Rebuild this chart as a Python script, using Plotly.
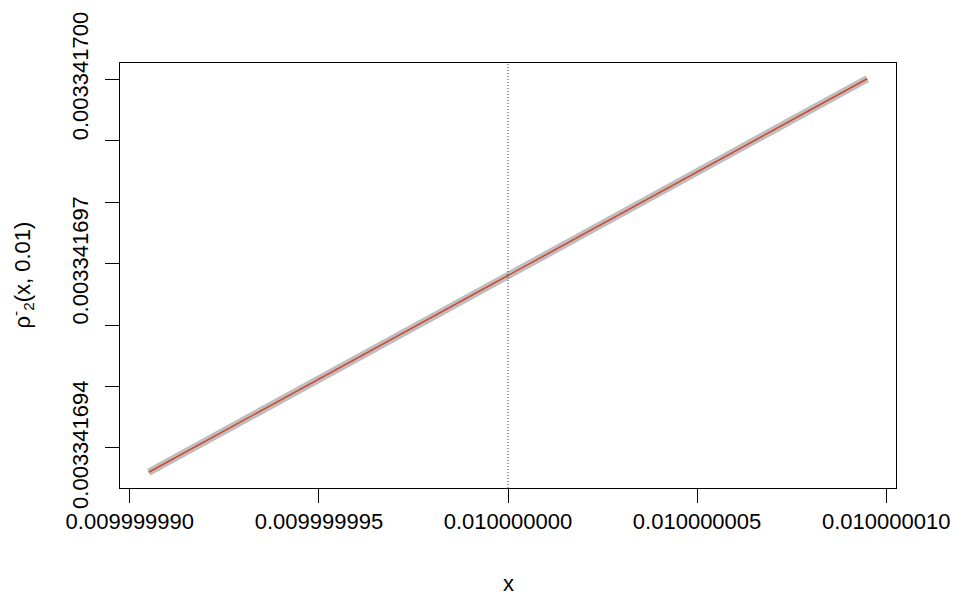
import plotly.graph_objects as go

# data
x_vals = [0.0099999905, 0.0100000000, 0.0100000095]
y_vals = [0.003341693605, 0.00334169681, 0.00334170001]
x_ref = 0.01

x_ticks = [0.009999990, 0.009999995, 0.010000000, 0.010000005, 0.010000010]
x_tick_labels = ["0.009999990", "0.009999995", "0.010000000", "0.010000005", "0.010000010"]
y_ticks = [0.003341694, 0.003341695, 0.003341696, 0.003341697, 0.003341698, 0.003341699, 0.003341700]
y_tick_labels = ["0.003341694", "", "", "0.003341697", "", "", "0.003341700"]

FONT = "Liberation Sans, Arial, Helvetica, sans-serif"

fig = go.Figure()
fig.add_trace(go.Scatter(x=x_vals, y=y_vals, mode="lines",
                         line=dict(color="#BEBEBE", width=7.5), hoverinfo="skip"))
fig.add_trace(go.Scatter(x=x_vals, y=y_vals, mode="lines",
                         line=dict(color="#D2452F", width=1.5), hoverinfo="skip"))
fig.add_shape(type="line", xref="x", yref="paper", x0=x_ref, x1=x_ref, y0=0, y1=1,
              line=dict(color="#333333", width=1, dash="1px,2px"))

# R-style 4% range extension
xmin, xmax = min(x_vals), max(x_vals)
ymin, ymax = min(y_vals), max(y_vals)
dx = (xmax - xmin) * 0.04
dy = (ymax - ymin) * 0.04

fig.update_layout(
    width=953, height=594,
    margin=dict(l=120, r=57, t=63, b=106),
    paper_bgcolor="white", plot_bgcolor="white",
    showlegend=False,
    font=dict(family=FONT, size=22, color="black"),
    xaxis=dict(range=[xmin - dx, xmax + dx], tickvals=x_ticks, ticktext=x_tick_labels,
               ticks="outside", ticklen=14, tickwidth=1, tickcolor="black",
               showline=True, linecolor="black", linewidth=1, mirror=True,
               showgrid=False, zeroline=False, automargin=False,
               tickfont=dict(size=22, family=FONT)),
    yaxis=dict(range=[ymin - dy, ymax + dy], tickvals=y_ticks, ticktext=y_tick_labels,
               ticks="outside", ticklen=14, tickwidth=1, tickcolor="black",
               showline=True, linecolor="black", linewidth=1, mirror=True,
               showgrid=False, zeroline=False, tickangle=-90, automargin=False,
               ticklabelstandoff=8,
               tickfont=dict(size=22, family=FONT)),
    annotations=[
        dict(text="x", xref="paper", yref="paper", x=0.5, y=0, yshift=-95,
             showarrow=False, xanchor="center", yanchor="middle",
             font=dict(size=22, family=FONT)),
        dict(text="ρ<sup>-</sup><sub>2</sub>(x, 0.01)", xref="paper", yref="paper",
             x=0, xshift=-98, y=0.5, textangle=-90, showarrow=False,
             xanchor="center", yanchor="middle", font=dict(size=22, family=FONT)),
    ],
)

fig.write_html("out.html", config={"displayModeBar": False},
               post_script="document.body.style.margin='0';document.body.style.overflow='hidden';")
